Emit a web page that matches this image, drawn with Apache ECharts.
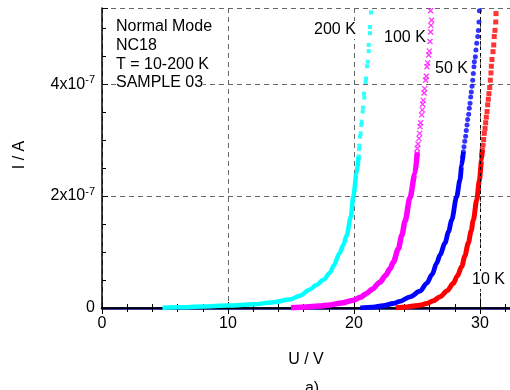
<!DOCTYPE html>
<html><head><meta charset="utf-8">
<script src="https://cdn.jsdelivr.net/npm/echarts@6/dist/echarts.min.js"></script>
<style>html,body{margin:0;padding:0;background:#fff}#c{width:510px;height:390px}</style>
</head><body><div id="c"></div>
<script>
// Current values in units of 1e-7 A, voltage in V
const xTicks = [0, 10, 20, 30];
const yTicks = [0, 2, 4];

const cyanBandU = [4.8, 6, 8, 10, 12, 13.5, 14.9, 15.7, 16.5, 17.0, 17.56, 18.1, 18.4, 18.85, 19.15, 19.42, 19.74, 19.95, 20.2, 20.37];
const cyanBandI = [0.005, 0.012, 0.028, 0.045, 0.065, 0.1, 0.15, 0.22, 0.33, 0.41, 0.5, 0.63, 0.76, 0.98, 1.12, 1.3, 1.62, 2.0, 2.4, 2.71];
const cyanDotU = [21.35, 21.27, 21.27, 21.17, 21.17, 21.09, 21.03, 20.95, 20.93, 20.79, 20.82, 20.71, 20.69, 20.61, 20.58, 20.53, 20.48, 20.42, 20.40, 20.37];
const cyanDotI = [5.28, 5.02, 4.91, 4.70, 4.59, 4.40, 4.32, 4.10, 4.04, 3.83, 3.76, 3.58, 3.51, 3.33, 3.27, 3.12, 3.06, 2.90, 2.84, 2.71];

const magBandU = [15.0, 16.2, 17.2, 18.1, 19.0, 19.95, 20.5, 21.0, 21.4, 22.06, 22.5, 22.86, 23.12, 23.52, 23.8, 24.05, 24.44, 24.84, 25.02];
const magBandI = [0.005, 0.02, 0.035, 0.055, 0.09, 0.14, 0.19, 0.26, 0.33, 0.46, 0.58, 0.7, 0.82, 1.06, 1.3, 1.55, 1.97, 2.4, 2.78];
const magDotU = [26.08, 26.16, 26.11, 26.08, 26.03, 25.98, 25.93, 25.85, 25.79, 25.74, 25.69, 25.61, 25.56, 25.50, 25.45, 25.42, 25.37, 25.29, 25.24, 25.21, 25.16, 25.08, 25.02, 25.00];
const magDotI = [5.31, 5.14, 5.05, 4.93, 4.76, 4.59, 4.52, 4.38, 4.31, 4.14, 4.07, 3.92, 3.84, 3.71, 3.64, 3.54, 3.45, 3.31, 3.24, 3.12, 3.03, 2.93, 2.85, 2.76];

const blueBandU = [20.5, 21.5, 22.3, 23.12, 23.65, 24.44, 25.24, 25.77, 26.2, 26.56, 26.83, 27.22, 27.5, 27.75, 28.15, 28.41, 28.55, 28.68];
const blueBandI = [0.003, 0.015, 0.04, 0.08, 0.12, 0.2, 0.3, 0.44, 0.6, 0.8, 0.95, 1.16, 1.36, 1.57, 1.99, 2.29, 2.55, 2.79];
const blueDotU = [29.95, 29.92, 29.87, 29.82, 29.74, 29.68, 29.63, 29.55, 29.52, 29.47, 29.42, 29.37, 29.31, 29.26, 29.21, 29.15, 29.10, 29.02, 28.97, 28.91, 28.86, 28.79, 28.73, 28.68, 28.63];
const blueDotI = [5.31, 5.11, 4.96, 4.85, 4.73, 4.61, 4.49, 4.40, 4.31, 4.19, 4.07, 3.96, 3.86, 3.77, 3.66, 3.57, 3.46, 3.37, 3.27, 3.17, 3.07, 2.98, 2.88, 2.79, 2.70];

const redBandU = [23.3, 24.2, 25.24, 25.77, 26.3, 26.83, 27.4, 27.88, 28.2, 28.55, 28.8, 29.07, 29.3, 29.47, 29.74, 29.95, 30.13, 30.18];
const redBandI = [0.005, 0.02, 0.05, 0.08, 0.13, 0.2, 0.31, 0.44, 0.57, 0.74, 0.93, 1.16, 1.38, 1.57, 1.93, 2.28, 2.65, 2.82];
const redDotU = [31.27, 31.25, 31.19, 31.13, 31.09, 31.03, 30.95, 30.90, 30.87, 30.82, 30.77, 30.71, 30.66, 30.61, 30.56, 30.50, 30.45, 30.40, 30.34, 30.29, 30.24, 30.18, 30.13];
const redDotI = [5.26, 5.11, 4.96, 4.85, 4.70, 4.58, 4.44, 4.32, 4.20, 4.07, 3.94, 3.83, 3.73, 3.63, 3.51, 3.41, 3.31, 3.21, 3.12, 3.01, 2.91, 2.82, 2.73];

const curveLabels = ['200 K', '100 K', '50 K', '10 K'];
const infoLines = ['Normal Mode', 'NC18', 'T = 10-200 K', 'SAMPLE 03'];

const zip = (a, b) => a.map((v, i) => [v, b[i]]);
const FF = 'Liberation Sans, Arial, sans-serif';

function band(u, i, color, w) {
  return { type: 'line', data: zip(u, i), showSymbol: false, smooth: 0.3, smoothMonotone: 'x',
    lineStyle: { color, width: w }, silent: true, z: 3, clip: true };
}
function dots(u, i, symbol, size, style) {
  return { type: 'scatter', data: zip(u, i), symbol, symbolSize: size, itemStyle: style, silent: true, z: 4, clip: true };
}

const chart = echarts.init(document.getElementById('c'), null, { renderer: 'canvas' });
const xCommon = {
  type: 'value', min: 0, max: 40, interval: 10,
  axisTick: { show: true, inside: true, length: 6, lineStyle: { color: '#000', width: 1 } },
  minorTick: { show: true, splitNumber: 5, length: 4, lineStyle: { color: '#000', width: 1 } },
};
const option = {
  animation: false,
  backgroundColor: '#fff',
  grid: { left: 102, top: 8, right: -96, bottom: 82, outerBoundsMode: 'none', containLabel: false },
  xAxis: [
    Object.assign({}, xCommon, {
      position: 'bottom',
      axisLine: { show: true, lineStyle: { color: '#00006e', width: 2.5 } },
      axisLabel: { fontSize: 16, color: '#000', fontFamily: FF, margin: 8,
        formatter: v => xTicks.indexOf(v) >= 0 ? String(v) : '' },
      splitLine: { show: true, lineStyle: { color: '#666', type: [5, 4], width: 1 } },
    }),
    Object.assign({}, xCommon, {
      position: 'top',
      axisLine: { show: true, lineStyle: { color: '#000', width: 1.5 } },
      axisLabel: { show: false },
      splitLine: { show: false },
    }),
  ],
  yAxis: [{
    type: 'value', min: 0, max: 5.36, interval: 2,
    axisLine: { show: true, lineStyle: { color: '#000', width: 1.5 } },
    axisTick: { show: true, inside: true, length: 6, lineStyle: { color: '#000' } },
    minorTick: { show: false },
    splitLine: { show: true, lineStyle: { color: '#666', type: [5, 4], width: 1 } },
    axisLabel: {
      fontSize: 16, color: '#000', fontFamily: FF, margin: 7,
      formatter: v => v === 0 ? '0' : (yTicks.indexOf(v) >= 0 ? `{b|${v}x10}{s|-7}` : ''),
      rich: {
        b: { fontSize: 16, fontFamily: FF, color: '#000' },
        s: { fontSize: 11, fontFamily: FF, color: '#000', verticalAlign: 'top', padding: [0, 0, 8, 0] },
      },
    },
  }, {
    type: 'value', min: 0, max: 5.36, interval: 0.5, position: 'left',
    axisLine: { show: false },
    axisTick: { show: true, inside: true, length: 4, lineStyle: { color: '#000' } },
    axisLabel: { show: false },
    splitLine: { show: false },
  }],
  series: [
    band(cyanBandU, cyanBandI, '#00ffff', 4.5),
    dots(cyanDotU, cyanDotI, 'rect', 4, { color: '#00ffff' }),
    band(magBandU, magBandI, '#ff00ff', 5.5),
    dots(magDotU, magDotI, 'path://M0,0L10,10M10,0L0,10', 5, { color: 'rgba(0,0,0,0)', borderColor: '#ff00ff', borderWidth: 1.3 }),
    band(blueBandU, blueBandI, '#0000ff', 4.8),
    dots(blueDotU, blueDotI, 'circle', 5, { color: '#0000ff' }),
    Object.assign(band(redBandU, redBandI, '#ff0000', 5), {
      markLine: { silent: true, symbol: 'none', label: { show: false },
        lineStyle: { color: '#000', type: [3, 3], width: 1 }, data: [{ xAxis: 30 }] } }),
    dots(redDotU, redDotI, 'rect', 5, { color: '#ff0000' }),
  ],
  graphic: [
    ...infoLines.map((t, k) => ({ type: 'text', z: 10, style: { text: t, x: 116, y: [27, 46, 65, 83][k], font: `16px ${FF}`, fill: '#000', align: 'left', verticalAlign: 'middle', backgroundColor: '#fff' } })),
    ...curveLabels.map((t, k) => ({ type: 'text', z: 10, style: { text: t, x: [313, 383, 434, 471][k], y: [30, 38, 69, 280][k], font: `16px ${FF}`, fill: '#000', align: 'left', verticalAlign: 'middle', backgroundColor: '#fff', padding: [1, 1] } })),
    { type: 'text', z: 10, style: { text: 'U / V', x: 306, y: 360, font: `16px ${FF}`, fill: '#000', align: 'center', verticalAlign: 'middle' } },
    { type: 'text', z: 10, x: 20, y: 155, rotation: Math.PI / 2, style: { text: 'I / A', x: 0, y: 0, font: `16px ${FF}`, fill: '#000', align: 'center', verticalAlign: 'middle' } },
    { type: 'text', z: 10, style: { text: 'a)', x: 312, y: 389, font: `16px ${FF}`, fill: '#000', align: 'center', verticalAlign: 'middle' } },
  ],
};
chart.setOption(option);
</script></body></html>
